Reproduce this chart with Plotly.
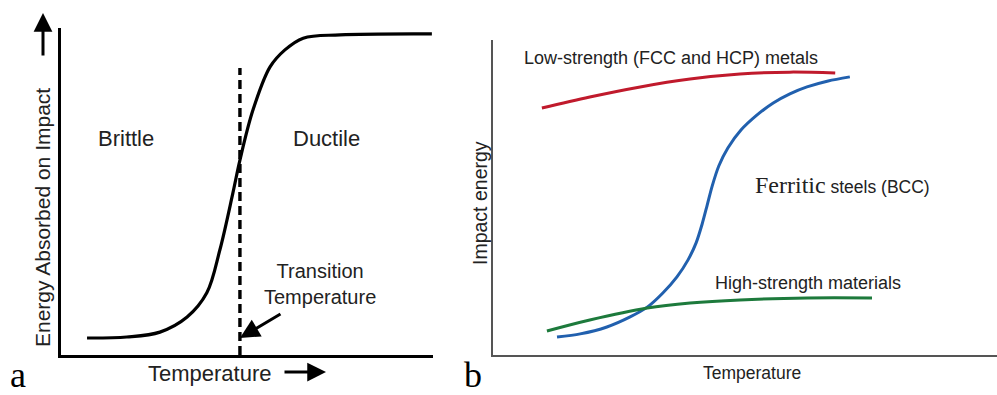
import plotly.graph_objects as go

# ---- panel a: ductile-to-brittle transition (schematic) ----
a_temperature = [0.70, 1.77, 2.66, 3.39, 3.92, 4.27, 4.62, 4.81, 5.16, 5.62, 6.02, 6.51, 7.50, 9.97]
a_energy = [0.52, 0.55, 0.70, 1.16, 1.90, 3.21, 4.95, 5.96, 7.49, 8.81, 9.33, 9.69, 9.79, 9.82]
transition_T = 4.81
transition_top = 8.78

# ---- panel b: impact energy vs temperature by material class ----
fcc_T = [0.97, 1.92, 2.92, 3.91, 4.90, 5.89, 6.79]
fcc_E = [7.84, 8.19, 8.51, 8.76, 8.92, 8.98, 8.95]
bcc_T = [1.27, 1.73, 2.26, 2.72, 3.06, 3.37, 3.65, 3.87, 4.03, 4.15, 4.25, 4.35, 4.48,
         4.66, 4.92, 5.24, 5.56, 5.89, 6.23, 6.65, 7.08]
bcc_E = [0.57, 0.67, 0.89, 1.21, 1.52, 1.97, 2.48, 3.02, 3.56, 4.16, 4.76, 5.37, 6.00,
         6.57, 7.14, 7.62, 8.00, 8.29, 8.51, 8.70, 8.83]
hs_T = [1.07, 1.92, 3.06, 3.91, 4.90, 6.23, 7.52]
hs_E = [0.76, 1.11, 1.49, 1.65, 1.75, 1.81, 1.81]

W, H = 997, 395
SANS = "Liberation Sans, Arial, sans-serif"
SERIF = "Liberation Serif, Times New Roman, serif"
INK = "#222222"

fig = go.Figure()

# panel a traces
fig.add_trace(go.Scatter(x=a_temperature, y=a_energy, mode="lines",
                         line=dict(color="black", width=3.2, shape="spline", smoothing=1.0),
                         xaxis="x", yaxis="y", hoverinfo="skip"))
fig.add_trace(go.Scatter(x=[transition_T, transition_T], y=[0, transition_top], mode="lines",
                         line=dict(color="black", width=3.4, dash="9px,5px"),
                         xaxis="x", yaxis="y", hoverinfo="skip"))

# panel b traces
fig.add_trace(go.Scatter(x=fcc_T, y=fcc_E, mode="lines",
                         line=dict(color="#c01a2c", width=3, shape="spline"),
                         xaxis="x2", yaxis="y2", hoverinfo="skip"))
fig.add_trace(go.Scatter(x=bcc_T, y=bcc_E, mode="lines",
                         line=dict(color="#2160ae", width=3, shape="spline", smoothing=0.8),
                         xaxis="x2", yaxis="y2", hoverinfo="skip"))
fig.add_trace(go.Scatter(x=hs_T, y=hs_E, mode="lines",
                         line=dict(color="#1d7a3c", width=3, shape="spline"),
                         xaxis="x2", yaxis="y2", hoverinfo="skip"))

axis_common = dict(showgrid=False, zeroline=False, showticklabels=False, ticks="",
                   fixedrange=True, range=[0, 10])

fig.update_layout(
    width=W, height=H,
    margin=dict(l=0, r=0, t=0, b=0),
    paper_bgcolor="white", plot_bgcolor="white",
    showlegend=False,
    xaxis=dict(domain=[61 / W, 433 / W], showline=True, linecolor="black", linewidth=3,
               anchor="y", **axis_common),
    yaxis=dict(domain=[40 / H, 367 / H], showline=True, linecolor="black", linewidth=3,
               anchor="x", **axis_common),
    xaxis2=dict(domain=[493 / W, 1.0], showline=True, linecolor="#555555", linewidth=2,
                anchor="y2", **axis_common),
    yaxis2=dict(domain=[40 / H, 355 / H], showline=True, linecolor="#555555", linewidth=2,
                anchor="x2", **axis_common),
)


def label(x, y, text, size, family=SANS, color=INK, ref="paper", angle=0):
    """Centred text label; paper refs take pixel positions."""
    if ref == "paper":
        x, y, xr, yr = x / W, (H - y) / H, "paper", "paper"
    else:
        xr, yr = ref
    return dict(x=x, y=y, xref=xr, yref=yr, text=text, showarrow=False,
                xanchor="center", yanchor="middle", textangle=angle,
                font=dict(family=family, size=size, color=color))


def arrow(tip_px, tail_px):
    """Filled arrow drawn in pixel positions."""
    return dict(x=tip_px[0] / W, y=(H - tip_px[1]) / H, xref="paper", yref="paper",
                ax=tail_px[0] - tip_px[0], ay=tail_px[1] - tip_px[1], text="",
                showarrow=True, arrowhead=2, arrowsize=1.25, arrowwidth=3,
                arrowcolor="black", standoff=0)


ann = []
# panel a labels
ann.append(label(1.75, 6.61, "Brittle", 22, ref=("x", "y")))
ann.append(label(7.15, 6.61, "Ductile", 22, ref=("x", "y")))
ann.append(label(6.96, 2.17, "Transition<br>Temperature", 20, ref=("x", "y")))
ann.append(dict(x=transition_T, y=0.52, xref="x", yref="y", ax=5.94, ay=1.28,
                axref="x", ayref="y", text="", showarrow=True, arrowhead=2,
                arrowsize=1.3, arrowwidth=3, arrowcolor="black", standoff=0))
ann.append(label(210, 373, "Temperature", 22))
ann.append(arrow((326, 372), (283, 372)))
ann.append(label(42, 218, "Energy Absorbed on Impact", 21, angle=-90))
ann.append(arrow((43, 13), (43, 57)))
ann.append(label(18, 375, "a", 36, family=SERIF, color="black"))

# panel b labels
ann.append(label(3.53, 9.43, "Low-strength (FCC and HCP) metals", 18, ref=("x2", "y2")))
ann.append(label(6.93, 5.40,
                 '<span style="font-family:Liberation Serif, Times New Roman, serif;'
                 'font-size:24px">Ferritic</span> steels (BCC)', 17.5, ref=("x2", "y2")))
ann.append(label(6.25, 2.29, "High-strength materials", 18, ref=("x2", "y2")))
ann.append(label(752, 373, "Temperature", 17.5))
ann.append(label(480, 203, "Impact energy", 19.5, angle=-90))
ann.append(label(473, 375, "b", 36, family=SERIF, color="black"))

fig.update_layout(annotations=ann)
fig.write_html("out.html", config={"displayModeBar": False})
